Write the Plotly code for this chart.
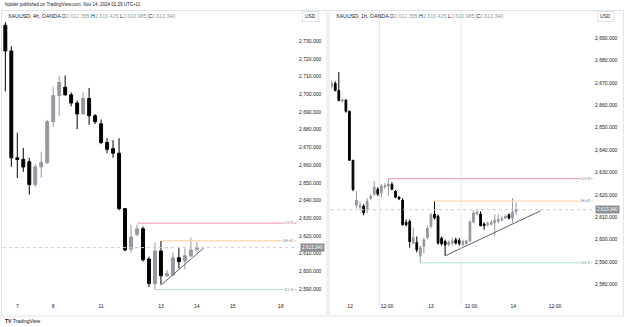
import plotly.graph_objects as go

# ---------------- data: left panel (XAUUSD 4h) ----------------
left_open  = [2739.1, 2724.5, 2664.1, 2663.2, 2661.9, 2649.0, 2659.0, 2661.3, 2684.6, 2699.3,
              2704.0, 2699.7, 2695.1, 2688.9, 2697.6, 2687.9, 2683.3, 2672.7, 2669.3, 2666.7,
              2635.4, 2612.5, 2620.9, 2624.0, 2606.9, 2593.0, 2611.4, 2597.4, 2597.8, 2607.6,
              2605.8, 2608.6, 2612.355]
left_high  = [2740.8, 2727.2, 2678.2, 2669.7, 2664.1, 2660.6, 2667.6, 2685.6, 2704.0, 2710.6,
              2710.6, 2701.1, 2696.4, 2701.1, 2703.6, 2688.9, 2685.8, 2675.2, 2674.1, 2675.2,
              2635.7, 2626.4, 2626.4, 2625.3, 2608.2, 2616.3, 2617.1, 2600.8, 2610.6, 2613.3,
              2612.9, 2619.0, 2616.425]
left_low   = [2701.7, 2659.0, 2652.6, 2656.2, 2643.3, 2647.5, 2652.8, 2660.6, 2681.6, 2687.9,
              2699.3, 2693.2, 2680.3, 2688.6, 2682.8, 2683.2, 2671.8, 2666.7, 2664.1, 2634.4,
              2611.3, 2610.6, 2619.6, 2605.4, 2591.1, 2589.8, 2592.4, 2596.8, 2597.4, 2601.5,
              2601.0, 2608.2, 2610.985]
left_close = [2724.5, 2664.1, 2663.2, 2658.9, 2649.0, 2659.0, 2661.5, 2684.6, 2699.3, 2706.7,
              2699.7, 2695.1, 2688.9, 2697.6, 2687.9, 2684.5, 2672.7, 2668.9, 2666.7, 2635.4,
              2612.0, 2619.3, 2624.0, 2606.5, 2593.0, 2611.4, 2597.4, 2598.7, 2607.6, 2605.4,
              2608.8, 2612.0, 2613.340]
left_tick_pos  = [3, 9, 17, 27, 33, 39, 47]
left_tick_text = ["7", "8", "11", "13", "14", "15", "18"]
left_price_ticks = [2590, 2600, 2610, 2620, 2630, 2640, 2650, 2660, 2670, 2680, 2690, 2700, 2710, 2720, 2730]
left_line_start = [23.1, 27.1, 26.0]          # D1 R, 4H sR, D1 S
left_tri_x = [27.1, 34.2]
left_tri_y = [2592.4, 2613.3]

# ---------------- data: right panel (XAUUSD 1h) ----------------
right_open  = [2668.4, 2669.8, 2666.6, 2661.9, 2662.3, 2657.3, 2635.4, 2615.3, 2614.4, 2614.9,
               2613.4, 2618.5, 2620.3, 2622.5, 2620.9, 2623.6, 2623.9, 2624.6, 2621.6, 2618.9,
               2617.6, 2607.7, 2608.1, 2598.4, 2598.7, 2592.8, 2596.9, 2600.9, 2605.9, 2611.4,
               2610.4, 2600.6, 2599.1, 2597.8, 2598.4, 2599.9, 2599.6, 2597.8, 2598.2, 2599.4,
               2607.8, 2611.4, 2611.4, 2606.9, 2606.6, 2606.8, 2607.5, 2608.1, 2608.7, 2609.6,
               2611.1, 2609.6, 2612.355]
right_high  = [2671.1, 2670.7, 2674.8, 2663.0, 2662.6, 2657.6, 2635.6, 2621.6, 2617.1, 2615.8,
               2618.5, 2620.3, 2626.1, 2623.4, 2624.8, 2625.2, 2626.9, 2625.7, 2622.1, 2619.4,
               2618.5, 2609.0, 2609.0, 2605.4, 2601.4, 2597.3, 2600.9, 2606.3, 2611.9, 2617.1,
               2611.3, 2601.4, 2600.0, 2599.6, 2600.9, 2600.9, 2600.7, 2600.0, 2600.0, 2608.6,
               2613.1, 2613.1, 2612.6, 2607.7, 2608.1, 2608.6, 2611.3, 2611.3, 2610.4, 2611.1,
               2611.7, 2618.6, 2616.425]
right_low   = [2667.5, 2666.2, 2661.7, 2661.2, 2656.7, 2635.1, 2621.6, 2614.0, 2613.1, 2610.8,
               2611.7, 2617.6, 2619.4, 2619.4, 2618.9, 2622.5, 2619.4, 2622.1, 2618.5, 2617.6,
               2606.3, 2605.9, 2596.4, 2597.8, 2594.2, 2589.8, 2593.7, 2600.0, 2605.0, 2609.0,
               2597.8, 2597.3, 2592.7, 2596.9, 2597.3, 2597.8, 2597.3, 2596.9, 2597.8, 2598.7,
               2607.2, 2610.8, 2605.9, 2604.4, 2605.9, 2606.3, 2601.4, 2607.2, 2608.1, 2609.0,
               2609.0, 2607.4, 2610.985]
right_close = [2669.8, 2666.6, 2662.1, 2662.3, 2657.3, 2635.4, 2622.4, 2617.6, 2615.3, 2611.9,
               2617.1, 2619.1, 2623.4, 2620.3, 2623.9, 2624.2, 2624.8, 2622.4, 2618.9, 2618.2,
               2606.6, 2606.6, 2599.1, 2600.9, 2595.4, 2596.4, 2599.9, 2605.1, 2611.1, 2609.6,
               2598.4, 2598.1, 2597.6, 2598.7, 2599.4, 2598.4, 2598.2, 2599.1, 2599.4, 2607.9,
               2611.9, 2612.3, 2606.2, 2606.2, 2607.2, 2607.7, 2608.6, 2608.9, 2609.3, 2610.4,
               2609.6, 2612.3, 2613.340]
right_tick_pos  = [5.2, 15.6, 28.0, 39.3, 51.2, 63.0]
right_tick_text = ["12", "12:00", "13", "12:00", "14", "12:00"]
right_price_ticks = [2580, 2590, 2600, 2610, 2620, 2630, 2640, 2650, 2660, 2670, 2680, 2690]
right_vlines = [13.5, 36.5]
right_line_start = [15.9, 28.9, 24.9]
right_tri_x = [32.0, 59.0]
right_tri_y = [2592.7, 2612.9]

levels = [2627.2, 2617.2, 2589.6]
level_names = ["D1 R", "4H sR", "D1 S"]
level_colors = ["#f48fb1", "#ffcc99", "#a5dfd6"]
last_price = 2613.34

W, H = 625, 327
def px(x): return x / W
def py(y): return 1 - y / H

BULL = "#9598a1"
BEAR = "#000000"
TXT = "#131722"
FONT = "Liberation Sans"

fig = go.Figure()

left_x = list(range(1, len(left_open) + 1))
right_x = list(range(0, len(right_open)))

for xs, o, h, l, c, xa, ya in [
    (left_x, left_open, left_high, left_low, left_close, "x", "y"),
    (right_x, right_open, right_high, right_low, right_close, "x2", "y2"),
]:
    fig.add_trace(go.Candlestick(
        x=xs, open=o, high=h, low=l, close=c, xaxis=xa, yaxis=ya,
        increasing=dict(line=dict(color=BULL, width=1), fillcolor=BULL),
        decreasing=dict(line=dict(color=BEAR, width=1), fillcolor=BEAR),
        whiskerwidth=0, showlegend=False, hoverinfo="skip"))

# triangle lines
for tx, ty, xa, ya in [(left_tri_x, left_tri_y, "x", "y"), (right_tri_x, right_tri_y, "x2", "y2")]:
    fig.add_trace(go.Scatter(x=tx, y=ty, mode="lines", xaxis=xa, yaxis=ya,
                             line=dict(color="#5d606b", width=1), showlegend=False, hoverinfo="skip"))

left_range = [0.61, 49.9]
right_range = [-0.2, 74.0]

shapes = []
annotations = []

# level lines
for starts, xr, xa, ya in [(left_line_start, left_range, "x", "y"), (right_line_start, right_range, "x2", "y2")]:
    for s, lv, col, nm in zip(starts, levels, level_colors, level_names):
        shapes.append(dict(type="line", xref=xa, yref=ya, x0=s, x1=xr[1] - (xr[1]-xr[0])*0.005,
                           y0=lv, y1=lv, line=dict(color=col, width=1)))
        annotations.append(dict(xref=xa, yref=ya, x=xr[1] - (xr[1]-xr[0])*0.012, y=lv,
                                text=nm, showarrow=False, xanchor="right", bgcolor="white",
                                font=dict(size=3.5, color="#787b86", family=FONT), borderpad=0))
    # last price dashed line
    shapes.append(dict(type="line", xref=xa, yref=ya, x0=xr[0], x1=xr[1], y0=last_price, y1=last_price,
                       line=dict(color="#c8cad0", width=1, dash="dot")))

for v in right_vlines:
    shapes.append(dict(type="line", xref="x2", yref="paper", x0=v, x1=v, y0=py(306), y1=py(11),
                       line=dict(color="#e6e7ea", width=1)))

# panel borders
for x0, x1 in [(1.5, 327), (329, 623.5)]:
    shapes.append(dict(type="rect", xref="paper", yref="paper", x0=px(x0), x1=px(x1),
                       y0=py(316), y1=py(10.5), line=dict(color="#e0e3eb", width=1)))

# header & footer
annotations.append(dict(xref="paper", yref="paper", x=px(3), y=py(5), xanchor="left", yanchor="middle",
                        text="fxpider published on TradingView.com, Nov 14, 2024 01:29 UTC+11",
                        showarrow=False, font=dict(size=4.5, color=TXT, family=FONT)))
annotations.append(dict(xref="paper", yref="paper", x=px(3), y=py(321), xanchor="left", yanchor="middle",
                        text="<b>TV</b> TradingView", showarrow=False, font=dict(size=5, color=TXT, family=FONT)))

ohlc_txt = ("O<span style='color:#9598a1'>2,612.355</span> H<span style='color:#9598a1'>2,616.425</span> "
            "L<span style='color:#9598a1'>2,610.985</span> C<span style='color:#9598a1'>2,613.340</span>")
for x0, tf in [(6, "4h"), (334, "1h")]:
    annotations.append(dict(xref="paper", yref="paper", x=px(x0), y=py(16), xanchor="left", yanchor="middle",
                            text=f"XAUUSD, {tf}, OANDA " + ohlc_txt, showarrow=False,
                            font=dict(size=5.3, color=TXT, family=FONT)))

# USD boxes and last price boxes
for xu, xa_px, ya in [(302, 300, "y"), (597, 595, "y2")]:
    annotations.append(dict(xref="paper", yref="paper", x=px(xu), y=py(17), xanchor="left", yanchor="middle",
                            text="USD", showarrow=False, bgcolor="white", bordercolor="#e0e3eb",
                            borderwidth=1, borderpad=2, font=dict(size=4.8, color=TXT, family=FONT)))
    annotations.append(dict(xref="paper", yref=ya, x=px(xa_px), y=last_price, xanchor="left", yanchor="middle",
                            text="2,613.340", showarrow=False, bgcolor="#8c8f98", borderpad=1,
                            font=dict(size=4.6, color="white", family=FONT)))

axis_font = dict(size=5, color=TXT, family=FONT)
fig.update_layout(
    width=W, height=H, margin=dict(l=0, r=0, t=0, b=0),
    paper_bgcolor="white", plot_bgcolor="white",
    shapes=shapes, annotations=annotations,
    xaxis=dict(domain=[px(3), px(298)], range=left_range, rangeslider=dict(visible=False),
               tickmode="array", tickvals=left_tick_pos, ticktext=left_tick_text,
               showgrid=False, zeroline=False, showline=False, tickfont=axis_font, ticks="", ticklen=0,
               anchor="y"),
    yaxis=dict(domain=[py(302), py(11)], range=[2582.6, 2747.1], side="right",
               tickmode="array", tickvals=left_price_ticks,
               tickformat=",.3f", showgrid=False, zeroline=False, tickfont=axis_font, ticks="",
               anchor="x"),
    xaxis2=dict(domain=[px(331), px(594)], range=right_range, rangeslider=dict(visible=False),
                tickmode="array", tickvals=right_tick_pos, ticktext=right_tick_text,
                showgrid=False, zeroline=False, showline=False, tickfont=axis_font, ticks="",
                anchor="y2"),
    yaxis2=dict(domain=[py(302), py(11)], range=[2572.1, 2702.1], side="right",
                tickmode="array", tickvals=right_price_ticks,
                tickformat=",.3f", showgrid=False, zeroline=False, tickfont=axis_font, ticks="",
                anchor="x2"),
)

fig.write_html("out.html")
